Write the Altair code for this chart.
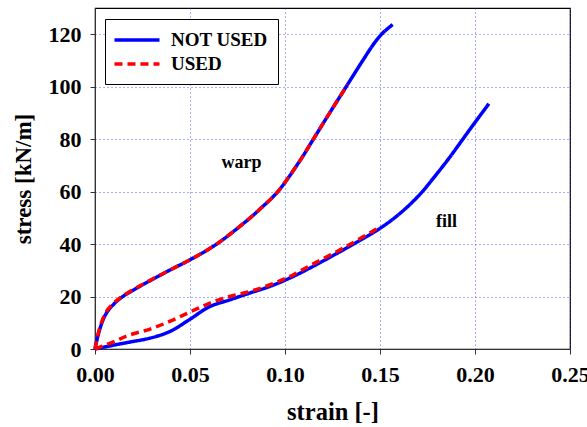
import altair as alt
import pandas as pd

# warp, NOT USED
warp_nu_x = [0, 0.0024, 0.0059, 0.0103, 0.0146, 0.0234, 0.0392, 0.05, 0.064, 0.0797, 0.0866, 0.0962, 0.1076, 0.1145, 0.1235, 0.1322, 0.1405, 0.1471, 0.1515, 0.1567]
warp_nu_y = [0, 7.3, 13.6, 17.4, 20, 23.8, 30, 34, 40, 48.8, 53.2, 60, 71.5, 79.5, 90, 100, 109.5, 116.7, 120.5, 123.7]
# warp, USED
warp_u_x = [0, 0.0022, 0.0056, 0.0100, 0.0146, 0.0234, 0.0392, 0.05, 0.064, 0.0797, 0.0866, 0.0962, 0.1076, 0.1145, 0.1235, 0.133]
warp_u_y = [0, 7.3, 13.8, 17.6, 20.2, 24, 30, 34, 40, 48.8, 53.2, 60, 71.5, 79.5, 90, 100.8]
# fill, NOT USED
fill_nu_x = [0, 0.01, 0.018, 0.0287, 0.0392, 0.0497, 0.0602, 0.0708, 0.0813, 0.0918, 0.1024, 0.1129, 0.1287, 0.15, 0.161, 0.1708, 0.1796, 0.1866, 0.1936, 0.1994, 0.2073]
fill_nu_y = [0, 1.5, 2.6, 4.1, 6.6, 11.2, 16.1, 18.7, 21.3, 23.8, 27, 30.8, 37, 46, 52, 58.8, 66.5, 73, 80, 85.8, 93.5]
# fill, USED
fill_u_x = [0, 0.01, 0.018, 0.0287, 0.0392, 0.0497, 0.0602, 0.0708, 0.0813, 0.0918, 0.1024, 0.1129, 0.132, 0.15]
fill_u_y = [0, 2.8, 5.3, 7.5, 10.5, 14, 17.4, 20, 21.9, 24.4, 27.6, 31.7, 39, 46.5]

series_names = ["NOT USED", "USED"]
label_text = ["warp", "fill"]
label_x = [0.0771, 0.185]
label_y = [71, 48.5]

rows = []
for cname, xs, ys, s in [("warp", warp_nu_x, warp_nu_y, "NOT USED"),
                         ("warp", warp_u_x, warp_u_y, "USED"),
                         ("fill", fill_nu_x, fill_nu_y, "NOT USED"),
                         ("fill", fill_u_x, fill_u_y, "USED")]:
    for i, (x, y) in enumerate(zip(xs, ys)):
        rows.append({"curve": cname + s, "series": s, "strain": x, "stress": y, "order": i})
df = pd.DataFrame(rows)
lab = pd.DataFrame({"t": label_text, "x": label_x, "y": label_y})

FONT = "Liberation Serif"

xscale = alt.Scale(domain=[0, 0.25], nice=False)
yscale = alt.Scale(domain=[0, 130], nice=False)

lines = alt.Chart(df).mark_line(strokeWidth=3.5, interpolate="catmull-rom").encode(
    x=alt.X("strain:Q", scale=xscale,
            axis=alt.Axis(title="strain [-]", values=[0, 0.05, 0.1, 0.15, 0.2, 0.25], format=".2f",
                          titleFontSize=24.5, titlePadding=15, labelPadding=10, labelFlush=False)),
    y=alt.Y("stress:Q", scale=yscale,
            axis=alt.Axis(title="stress [kN/m]", values=[0, 20, 40, 60, 80, 100, 120],
                          titleFontSize=23, titlePadding=13, labelPadding=9, labelFlush=False)),
    color=alt.Color("series:N", scale=alt.Scale(domain=series_names, range=["#0000ff", "#ff0000"]),
                    legend=alt.Legend(title=None, orient="none", legendX=10, legendY=11,
                                      symbolType="M-1.28,0L3.72,0", symbolStrokeWidth=3.5, symbolSize=324,
                                      labelFont=FONT, labelFontSize=19, labelFontWeight="bold",
                                      labelColor="black",
                                      strokeColor="black", fillColor="white", padding=10,
                                      rowPadding=3, labelOffset=34)),
    strokeDash=alt.StrokeDash("series:N", scale=alt.Scale(domain=series_names, range=[[1, 0], [8, 5]]),
                              legend=alt.Legend(title=None, orient="none", legendX=10, legendY=11)),
    detail="curve:N",
    order="order:Q",
)

labels = alt.Chart(lab).mark_text(font=FONT, fontSize=18, fontWeight="bold", color="black").encode(
    x=alt.X("x:Q", scale=xscale), y=alt.Y("y:Q", scale=yscale), text="t:N")

chart = alt.layer(lines, labels).properties(
    width=475, height=341,
    autosize=alt.AutoSizeParams(type="none"),
    padding={"left": 95, "top": 8, "right": 17, "bottom": 78},
).configure_view(stroke="black", strokeWidth=1.2).configure_axis(
    labelFont=FONT, labelFontSize=22, labelFontWeight="bold", labelColor="black",
    titleFont=FONT, titleFontWeight="bold", titleColor="black",
    domainColor="#333", tickColor="#333", tickSize=5,
    gridColor="#3333ff", gridDash=[1, 3], gridWidth=1, gridOpacity=0.8,
)

chart.save("out.html", embed_options={"renderer": "svg", "actions": False})
